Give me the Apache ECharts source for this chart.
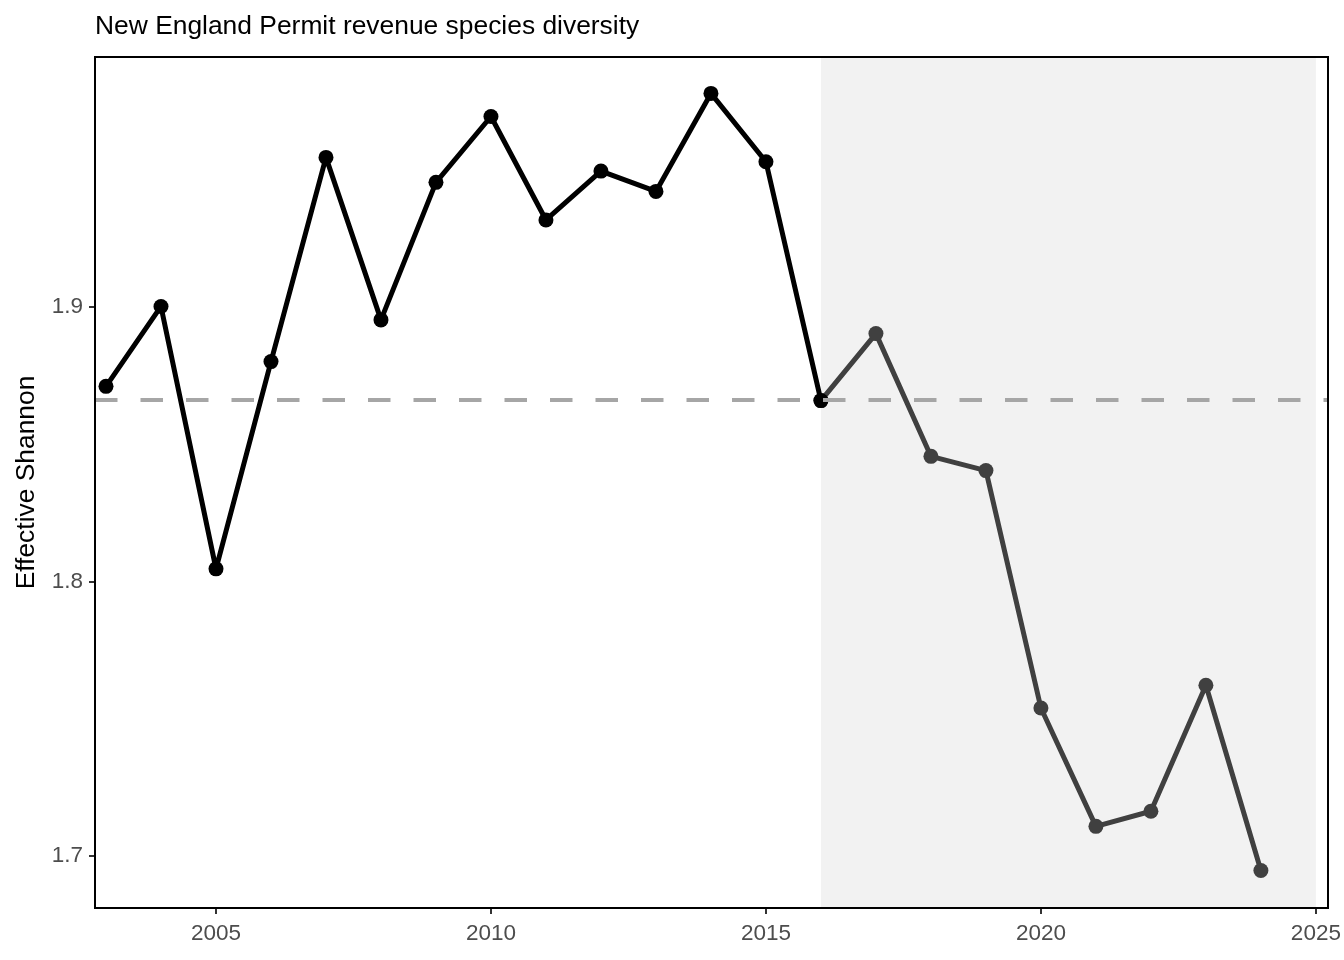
<!DOCTYPE html>
<html>
<head>
<meta charset="utf-8">
<script src="https://cdn.jsdelivr.net/npm/echarts@6/dist/echarts.min.js"></script>
<style>html,body{margin:0;padding:0;background:#fff}#c{width:1344px;height:960px}</style>
</head>
<body>
<div id="c"></div>
<script>
const titleText = "New England Permit revenue species diversity";
const yAxisTitle = "Effective Shannon";
const years = [2003,2004,2005,2006,2007,2008,2009,2010,2011,2012,2013,2014,2015,2016,2017,2018,2019,2020,2021,2022,2023,2024];
const shannon = [1.8711,1.9002,1.8046,1.8801,1.9545,1.8953,1.9454,1.9694,1.9317,1.9495,1.9421,1.9778,1.9529,1.8659,1.8903,1.8456,1.8404,1.7539,1.7108,1.7163,1.7622,1.6947];
const meanShannon = 1.8661;
const splitYear = 2016;
const shadeRange = [2016, 2025];
const xTicks = [2005,2010,2015,2020,2025];
const yTicks = [1.7,1.8,1.9];
const xRange = [2002.8, 2025.22];
const yRange = [1.68106, 1.99107];

const early = [], late = [];
years.forEach((y, i) => {
  if (y <= splitYear) early.push([y, shannon[i]]);
  if (y >= splitYear) late.push([y, shannon[i]]);
});

const font = "Liberation Sans, Arial, Helvetica, sans-serif";
const chart = echarts.init(document.getElementById('c'), null, {renderer: 'canvas'});
chart.setOption({
  animation: false,
  backgroundColor: '#ffffff',
  title: {
    text: titleText, left: 90, top: 9,
    textStyle: {fontFamily: font, fontSize: 26.4, fontWeight: 'normal', color: '#000'}
  },
  grid: {left: 95, right: 16, top: 57, bottom: 52, show: true, z: 10,
         borderColor: '#000', borderWidth: 2, backgroundColor: 'transparent'},
  xAxis: {
    type: 'value', min: xRange[0], max: xRange[1],
    splitLine: {show: false},
    axisLine: {show: false},
    axisTick: {show: true, length: 6, customValues: xTicks, lineStyle: {color: '#333', width: 2}},
    axisLabel: {customValues: xTicks, margin: 14, fontFamily: font, fontSize: 22.5, color: '#4d4d4d',
                formatter: v => String(Math.round(v))}
  },
  yAxis: {
    type: 'value', min: yRange[0], max: yRange[1],
    name: yAxisTitle, nameLocation: 'middle', nameGap: 55, nameRotate: 90,
    nameTextStyle: {fontFamily: font, fontSize: 26.4, color: '#000'},
    splitLine: {show: false},
    axisLine: {show: false},
    axisTick: {show: true, length: 6, customValues: yTicks, lineStyle: {color: '#333', width: 2}},
    axisLabel: {customValues: yTicks, margin: 12, fontFamily: font, fontSize: 22.5, color: '#4d4d4d',
                formatter: v => v.toFixed(1)}
  },
  series: [
    {
      type: 'line', data: [], z: 1, silent: true,
      markArea: {silent: true, itemStyle: {color: '#f2f2f2'},
                 data: [[{xAxis: shadeRange[0]}, {xAxis: shadeRange[1]}]]}
    },
    {
      type: 'line', data: [], z: 2, silent: true,
      markLine: {silent: true, precision: 6, symbol: ['none','none'], label: {show: false},
                 lineStyle: {color: '#a6a6a6', width: 4.2, type: [22.5, 23]},
                 data: [{yAxis: meanShannon}]}
    },
    {
      type: 'line', data: late, z: 3, symbol: 'circle', symbolSize: 15, showSymbol: true,
      lineStyle: {color: '#404040', width: 5}, itemStyle: {color: '#404040'}
    },
    {
      type: 'line', data: early, z: 4, symbol: 'circle', symbolSize: 15, showSymbol: true,
      lineStyle: {color: '#000', width: 5}, itemStyle: {color: '#000'}
    }
  ]
});
</script>
</body>
</html>
